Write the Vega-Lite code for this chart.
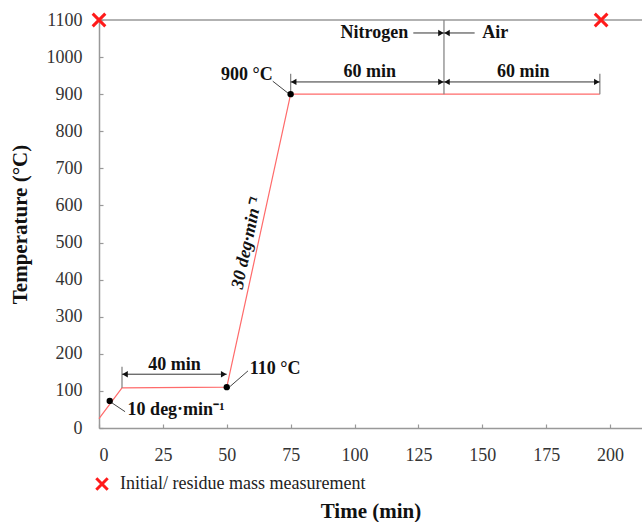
{
  "$schema": "https://vega.github.io/schema/vega-lite/v6.json",
  "autosize": {"type": "none"},
  "padding": {"left": 99, "top": 20, "right": 0, "bottom": 94},
  "width": 543,
  "height": 408,
  "background": "white",
  "config": {
    "font": "Liberation Serif",
    "view": {"stroke": null},
    "axis": {"grid": false, "domainColor": "#999999", "domainWidth": 1.5, "tickColor": "#999999", "tickWidth": 1.2, "labelFont": "Liberation Serif", "labelFontSize": 18, "labelColor": "#333333", "labelOverlap": false, "titleFont": "Liberation Serif", "titleFontSize": 21, "titleFontWeight": "bold", "titleColor": "#111111"}
  },
  "datasets": {
    "frame": [
      {"t": 0, "t2": 212.5, "T": 1100}
    ],
    "profile": [
      {"t": 0, "T": 25},
      {"t": 9, "T": 108},
      {"t": 50, "T": 110},
      {"t": 75, "T": 900},
      {"t": 196, "T": 900}
    ],
    "dots": [
      {"t": 4.2, "T": 73},
      {"t": 50, "T": 110},
      {"t": 75, "T": 900}
    ],
    "mass": [
      {"t": 0, "T": 1100, "series": "Initial/ residue mass measurement"},
      {"t": 196.5, "T": 1100, "series": "Initial/ residue mass measurement"}
    ],
    "leaders": [
      {"t": 68, "T": 935, "t2": 74.5, "T2": 900},
      {"t": 51.3, "T": 112, "t2": 58.3, "T2": 154},
      {"t": 5, "T": 68, "t2": 10.2, "T2": 44}
    ],
    "ticks": [
      {"t": 9, "T": 108, "T2": 165},
      {"t": 75, "T": 900, "T2": 955},
      {"t": 135, "T": 900, "T2": 1100},
      {"t": 196, "T": 900, "T2": 955}
    ],
    "arrows": [
      {"t": 9, "t2": 50, "T": 145},
      {"t": 75, "t2": 135, "T": 933},
      {"t": 135, "t2": 196, "T": 933},
      {"t": 123, "t2": 135, "T": 1065},
      {"t": 135, "t2": 147, "T": 1065}
    ],
    "heads": [
      {"t": 10.2, "T": 145, "dir": "left"},
      {"t": 48.8, "T": 145, "dir": "right"},
      {"t": 76.2, "T": 933, "dir": "left"},
      {"t": 133.8, "T": 933, "dir": "right"},
      {"t": 136.2, "T": 933, "dir": "left"},
      {"t": 194.8, "T": 933, "dir": "right"},
      {"t": 133.8, "T": 1065, "dir": "right"},
      {"t": 136.2, "T": 1065, "dir": "left"}
    ],
    "labelsRight": [
      {"t": 68, "T": 951, "label": "900 °C"},
      {"t": 121, "T": 1065, "label": "Nitrogen"}
    ],
    "labelsCenter": [
      {"t": 106, "T": 960, "label": "60 min"},
      {"t": 166, "T": 960, "label": "60 min"},
      {"t": 29.5, "T": 170, "label": "40 min"}
    ],
    "labelsLeft": [
      {"t": 59, "T": 159, "label": "110 °C"},
      {"t": 150, "T": 1065, "label": "Air"},
      {"t": 11.2, "T": 48, "label": "10 deg·min⁻¹"}
    ],
    "labelsRotated": [
      {"t": 58, "T": 499, "label": "30 deg·min⁻¹"}
    ]
  },
  "encoding": {
    "x": {"field": "t", "type": "quantitative", "scale": {"domain": [0, 212.5], "nice": false},
      "axis": {"values": [0, 25, 50, 75, 100, 125, 150, 175, 200], "format": "d", "tickSize": -4, "labelPadding": 22, "labelOverlap": false, "labelFont": "Times New Roman", "labelFontSize": 18, "title": "Time (min)", "titlePadding": 36}},
    "y": {"field": "T", "type": "quantitative", "scale": {"domain": [0, 1100], "nice": false},
      "axis": {"values": [0, 100, 200, 300, 400, 500, 600, 700, 800, 900, 1000, 1100], "format": "d", "tickSize": -4, "labelPadding": 21, "labelOverlap": false, "labelSeparation": 0, "labelFont": "Times New Roman", "labelFontSize": 18, "title": "Temperature  (°C)", "titlePadding": 16}}
  },
  "layer": [
    {
      "data": {"name": "frame"},
      "mark": {"type": "rule", "color": "#999999", "strokeWidth": 1.5},
      "encoding": {"x2": {"field": "t2"}}
    },
    {
      "data": {"name": "profile"},
      "mark": {"type": "line", "color": "#ff6b6b", "strokeWidth": 1.2}
    },
    {
      "data": {"name": "ticks"},
      "mark": {"type": "rule", "color": "#888888", "strokeWidth": 1.3},
      "encoding": {"y2": {"field": "T2"}}
    },
    {
      "data": {"name": "arrows"},
      "mark": {"type": "rule", "color": "#333333", "strokeWidth": 1},
      "encoding": {"x2": {"field": "t2"}}
    },
    {
      "data": {"name": "heads"},
      "transform": [{"filter": "datum.dir === 'right'"}],
      "mark": {"type": "point", "shape": "triangle-right", "filled": true, "color": "#111111", "size": 40, "opacity": 1}
    },
    {
      "data": {"name": "heads"},
      "transform": [{"filter": "datum.dir === 'left'"}],
      "mark": {"type": "point", "shape": "triangle-left", "filled": true, "color": "#111111", "size": 40, "opacity": 1}
    },
    {
      "data": {"name": "leaders"},
      "mark": {"type": "rule", "color": "#444444", "strokeWidth": 1},
      "encoding": {"x2": {"field": "t2"}, "y2": {"field": "T2"}}
    },
    {
      "data": {"name": "dots"},
      "mark": {"type": "point", "filled": true, "color": "#000000", "size": 40, "opacity": 1}
    },
    {
      "data": {"name": "mass"},
      "mark": {"type": "point", "filled": false, "strokeWidth": 3, "size": 160, "opacity": 1},
      "encoding": {
        "shape": {"field": "series", "type": "nominal", "scale": {"range": ["M-1,-1L1,1M-1,1L1,-1"]},
          "legend": {"title": null, "orient": "none", "legendX": -6, "legendY": 455, "labelFont": "Times New Roman", "labelFontSize": 18, "labelColor": "#222222", "labelLimit": 0, "symbolSize": 130, "symbolStrokeWidth": 3, "labelOffset": 9}},
        "color": {"field": "series", "type": "nominal", "scale": {"range": ["#ff1a1a"]},
          "legend": {"title": null, "orient": "none", "legendX": -6, "legendY": 455, "labelFont": "Times New Roman", "labelFontSize": 18, "labelColor": "#222222", "labelLimit": 0, "symbolSize": 130, "symbolStrokeWidth": 3, "labelOffset": 9}}
      }
    },
    {
      "data": {"name": "labelsRight"},
      "mark": {"type": "text", "align": "right", "baseline": "middle", "font": "Liberation Serif", "fontSize": 18, "fontWeight": "bold", "color": "#111111"},
      "encoding": {"text": {"field": "label"}}
    },
    {
      "data": {"name": "labelsCenter"},
      "mark": {"type": "text", "align": "center", "baseline": "middle", "font": "Liberation Serif", "fontSize": 18, "fontWeight": "bold", "color": "#111111"},
      "encoding": {"text": {"field": "label"}}
    },
    {
      "data": {"name": "labelsLeft"},
      "mark": {"type": "text", "align": "left", "baseline": "middle", "font": "Liberation Serif", "fontSize": 18, "fontWeight": "bold", "color": "#111111"},
      "encoding": {"text": {"field": "label"}}
    },
    {
      "data": {"name": "labelsRotated"},
      "mark": {"type": "text", "align": "center", "baseline": "middle", "angle": 282, "font": "Liberation Serif", "fontSize": 18, "fontWeight": "bold", "fontStyle": "italic", "color": "#111111"},
      "encoding": {"text": {"field": "label"}}
    }
  ]
}
